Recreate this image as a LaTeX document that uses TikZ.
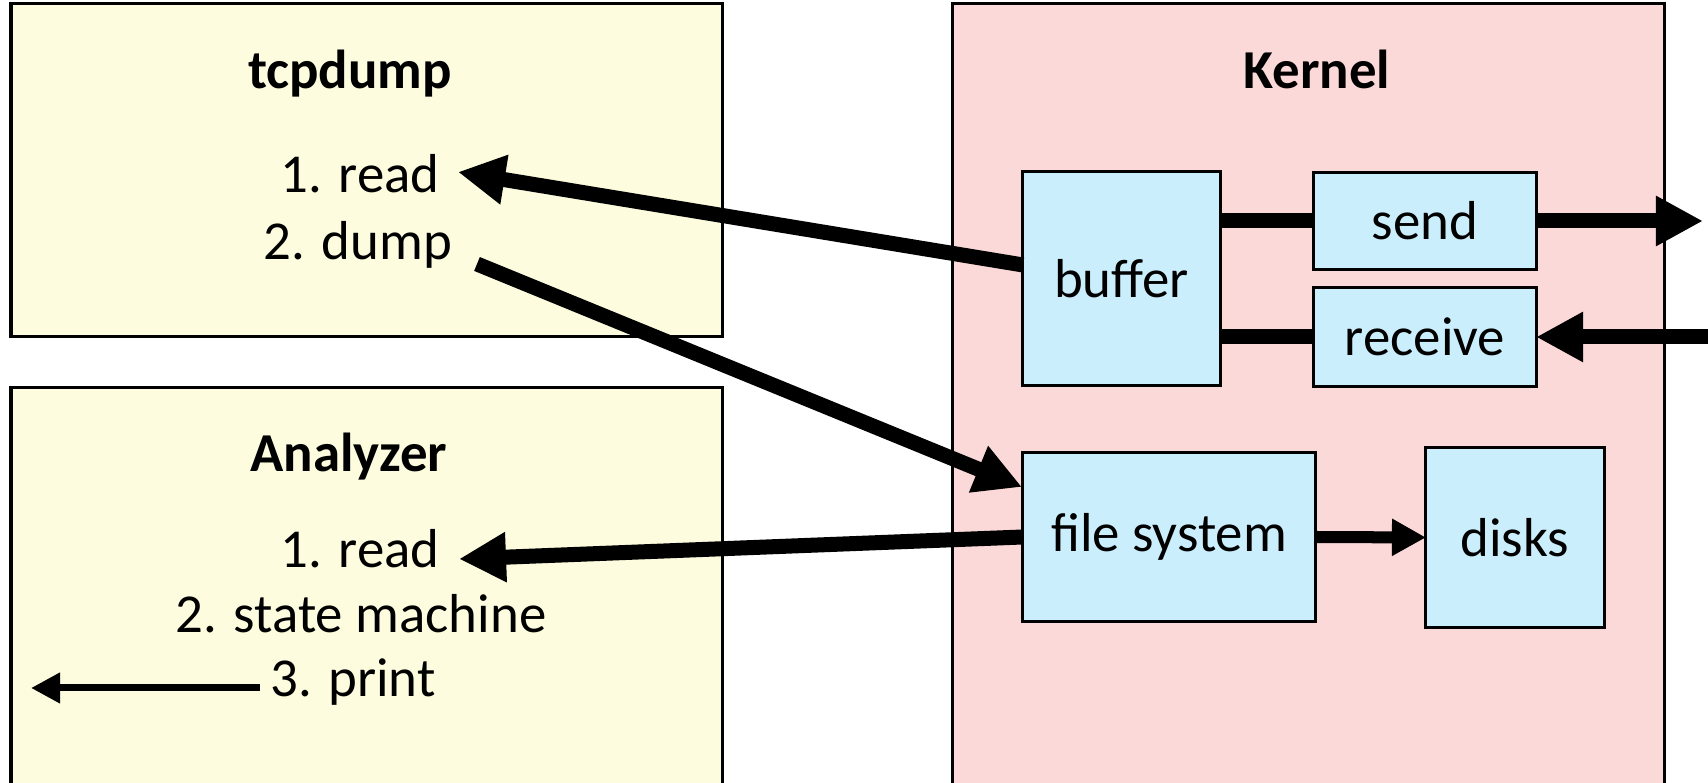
\documentclass[tikz,border=0pt]{standalone}
\usepackage{fontspec}
\setmainfont{Carlito}
\usetikzlibrary{arrows.meta}

\definecolor{userfill}{RGB}{253,252,223}
\definecolor{kernfill}{RGB}{252,217,217}
\definecolor{partfill}{RGB}{203,238,252}

\begin{document}
\begin{tikzpicture}[
  x=0.01cm, y=-0.01cm,
  txt/.style={font=\fontsize{15.6}{18}\selectfont, inner sep=0pt, anchor=base},
  ttl/.style={txt, font=\fontsize{15.6}{18}\selectfont\bfseries},
  panel/.style={draw, line width=0.03cm, inner sep=0pt, outer sep=0pt, anchor=north west},
  part/.style={draw, fill=partfill, line width=0.03cm, inner sep=0pt, outer sep=0pt,
               font=\fontsize{15.6}{18}\selectfont},
  fat/.style={line width=0.15cm},
  fatarrow/.style={fat, -{Triangle[length=0.47cm,width=0.47cm]}},
  midarrow/.style={line width=0.12cm, -{Triangle[length=0.34cm,width=0.35cm]}},
  thinarrow/.style={line width=0.07cm, -{Triangle[length=0.29cm,width=0.29cm]}},
]
\useasboundingbox (0,0) rectangle (1708,783);
\clip (0,0) rectangle (1708,783);

% user-space programs and the kernel
\node[panel, fill=userfill, minimum width=7.11cm, minimum height=3.32cm] (tcpdumpbox) at (11,4) {};
\node[panel, fill=userfill, minimum width=7.11cm, minimum height=4.20cm] (analyzerbox) at (11,388) {};
\node[panel, fill=kernfill, minimum width=7.12cm, minimum height=8.20cm] (kernelbox) at (952,4) {};

% titles
\node[ttl] (tcpdumptitle) at (350,89) {tcpdump};
\node[ttl] (analyzertitle) at (349,472) {Analyzer};
\node[ttl] (kerneltitle) at (1317,89) {Kernel};

% steps of each program
\node[txt] (tread) at (360,193) {1. read};
\node[txt] (tdump) at (358,260) {2. dump};
\node[txt] (aread) at (360,568) {1. read};
\node[txt] (astate) at (361,633) {2. state machine};
\node[txt] (aprint) at (353,697) {3. print};

% kernel parts
\node[part, minimum width=1.97cm, minimum height=2.13cm] (buffer) at (1121.5,278.5) {buffer};
\node[part, minimum width=2.22cm, minimum height=0.96cm] (send) at (1425,221) {send};
\node[part, minimum width=2.22cm, minimum height=0.98cm] (receive) at (1425,337) {receive};
\node[part, minimum width=2.92cm, minimum height=1.68cm] (fs) at (1169,537) {file system};
\node[part, minimum width=1.78cm, minimum height=1.79cm] (disks) at (1515,537.5) {disks};

% arrow end points
\coordinate (bufout) at (1023,265);
\coordinate (treadtip) at (458,172);
\coordinate (tdumptail) at (477,264);
\coordinate (fsin) at (1022,487);
\coordinate (areadtip) at (459,559);
\coordinate (netout) at (1703,221);
\coordinate (netin) at (1712,337);
\coordinate (printtail) at (260,688);
\coordinate (printtip) at (31,688);

% connectors
\draw[fatarrow] (bufout) -- (treadtip);
\draw[fatarrow] (tdumptail) -- (fsin);
\draw[fatarrow] (fs.west) -- (areadtip);
\draw[midarrow] (fs.east) -- (disks.west);
\draw[fat] (buffer.east |- send.west) -- (send.west);
\draw[fat] (buffer.east |- receive.west) -- (receive.west);
\draw[fatarrow] (send.east) -- (netout);
\draw[fatarrow] (netin) -- (receive.east);
\draw[thinarrow] (printtail) -- (printtip);
\end{tikzpicture}
\end{document}
